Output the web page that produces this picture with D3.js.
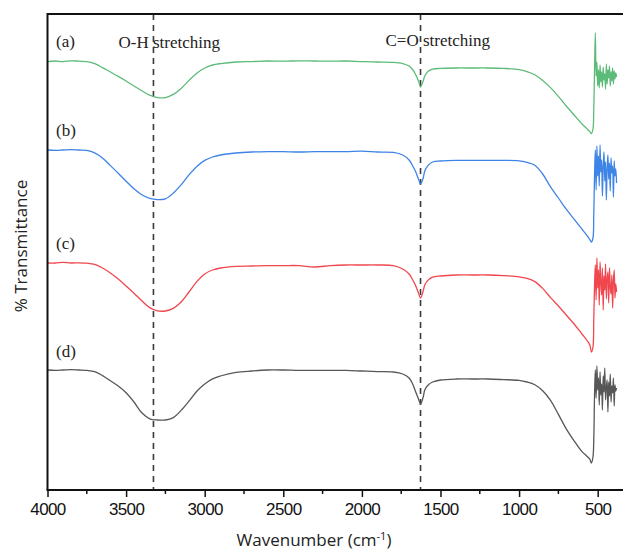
<!DOCTYPE html>
<html>
<head>
<meta charset="utf-8">
<script src="https://cdn.jsdelivr.net/npm/d3@7"></script>
<style>
  html, body { margin: 0; padding: 0; background: #fff; }
  svg { display: block; }
</style>
</head>
<body>
<div id="chart"></div>
<script>
// wavenumber grid (cm-1), shared by all four spectra
var wavenumbers = [
  4000, 3950, 3900, 3850, 3800, 3750, 3700, 3650, 3600, 3550, 3500, 3450, 3400, 3350, 3300, 3250,
  3200, 3150, 3100, 3050, 3000, 2950, 2900, 2800, 2700, 2600, 2500, 2400, 2300, 2200, 2100, 2000,
  1900, 1800, 1740, 1700, 1680, 1660, 1640, 1627, 1610, 1600, 1580, 1550, 1500, 1400, 1300, 1200,
  1100, 1000, 950, 900, 850, 800, 750, 700, 650, 600, 570, 550, 540, 530, 525, 520,
  515, 510, 505, 500, 495, 490, 485, 480, 475, 470, 465, 460, 455, 450, 445, 440,
  435, 430, 425, 420, 415, 410, 405, 400, 395, 390, 385, 380
];

// % transmittance, offset spectra (a)..(d)
var specA = [
  107.1, 107.25, 107.1, 107.3, 107.2, 107.1, 106.6, 105.6, 104.5, 103.4, 102.25, 101, 99.8, 98.7, 98.1, 98.1,
  98.9, 100.4, 102.4, 104.2, 105.5, 106.25, 106.6, 107, 107.1, 107.25, 107.2, 107.3, 107.25, 107.2, 107.25, 107.1,
  107, 106.9, 106.6, 106, 105.25, 104, 102.25, 100.75, 102.25, 103.5, 104.6, 105.2, 105.4, 105.5, 105.5, 105.5,
  105.4, 105.1, 104.6, 103.8, 102.4, 100.6, 98.4, 96, 93.75, 91.5, 90.4, 89.6, 89.1, 90.25, 95, 105,
  114.25, 103.5, 107, 101, 105, 100.5, 106.25, 102, 104.5, 100.75, 105.75, 102.5, 104, 100.25, 106.5, 101.5,
  105, 103, 106, 101, 104.5, 102.25, 105.5, 101.5, 104.75, 102.75, 104.25, 103.25
];
var specB = [
  85, 84.9, 85, 85.1, 85, 84.9, 84.3, 83, 81.1, 79.2, 77.2, 75.3, 73.8, 72.9, 72.6, 72.8,
  74.2, 76.3, 78.8, 80.9, 82.4, 83.25, 83.75, 84.25, 84.5, 84.6, 84.6, 84.5, 84.6, 84.6, 84.6, 84.7,
  84.5, 84.4, 83.75, 82.5, 81.25, 79.75, 77.75, 76.5, 78, 79.75, 81.1, 82, 82.25, 82.4, 82.4, 82.4,
  82.4, 82.3, 81.9, 81.2, 79, 75.8, 73, 70.2, 67.7, 65.2, 63.7, 62.6, 62, 63, 68.75, 78.75,
  85, 75, 86, 78.5, 83.5, 76, 86.25, 79.5, 82.5, 73.5, 81, 84.5, 77.25, 82, 72.5, 80.5,
  83.75, 77.75, 81.75, 74.75, 83, 79.25, 81, 73.25, 82.25, 78.5, 80.25, 76.75
];
var specC = [
  56.75, 56.75, 56.9, 56.75, 56.8, 56.7, 56.4, 55.5, 54.25, 52.75, 51, 49.2, 47.3, 45.6, 44.8, 44.75,
  45.4, 47, 49.5, 52.1, 54, 55, 55.5, 55.9, 56, 56.1, 56.1, 56.1, 55.75, 56.1, 56.25, 56.25,
  56.25, 56.1, 55.25, 54, 52.75, 51.25, 49.25, 48, 49.75, 51.25, 52.4, 53.2, 53.5, 53.75, 53.75, 53.75,
  53.6, 53.3, 52.9, 52.1, 50.4, 48.1, 46, 43.75, 41.5, 39, 37.5, 36.25, 34.5, 35.75, 42.5, 51.25,
  56.25, 47.5, 58, 50.5, 55, 46.25, 57, 52, 48.75, 55.5, 45, 53.5, 50, 56.5, 47.75, 52.5,
  54.5, 46.75, 55.5, 50.75, 49, 53.75, 45.5, 52.25, 55, 48, 51.5, 49.5
];
var specD = [
  30, 29.9, 30, 30.1, 30, 29.9, 29.6, 28.6, 27.3, 26, 24.3, 22, 19.3, 17.8, 17.5, 17.5,
  18.1, 19.9, 22.2, 24.7, 26.5, 27.8, 28.5, 29.4, 29.75, 30, 30, 29.9, 29.9, 29.9, 29.9, 29.75,
  29.6, 29.5, 29, 28, 26.75, 24.75, 22.75, 21.5, 23.25, 25, 26.2, 27, 27.5, 27.75, 27.75, 27.75,
  27.6, 27.4, 27, 26.3, 24.8, 22.4, 18.9, 15.3, 12.3, 9.6, 8.5, 7.7, 6.75, 8.25, 12.5, 23.75,
  30, 23, 31, 25, 28, 21.25, 29.5, 23.75, 26.5, 20, 28.5, 24.5, 30.5, 22.5, 25.5, 27.5,
  19.5, 27, 23.5, 29, 22, 26, 24.25, 28, 21, 26.25, 24.75, 25.5
];

var seriesLabels = ['(a)', '(b)', '(c)', '(d)'];
var seriesColors = ['#5cbb78', '#3d84e6', '#f0474e', '#575757'];
var labelValues  = [110.75, 88.5, 60.25, 33.25];   // where each tag sits on the y scale

var majorTicks = [4000, 3500, 3000, 2500, 2000, 1500, 1000, 500];
var minorTicks = [3750, 3250, 2750, 2250, 1750, 1250, 750];

var bandPositions = [3326, 1627];
var bandLabels    = ['O-H stretching', 'C=O stretching'];

(function () {
  var W = 623, H = 553;
  var left = 47.5, top = 14, bottom = 490;

  var svg = d3.select('#chart').append('svg')
    .attr('width', W).attr('height', H)
    .style('background', '#fff');

  var x = d3.scaleLinear().domain([4000, 339]).range([left, W]);
  var y = d3.scaleLinear().domain([0, 119]).range([bottom, top]);

  var series = [specA, specB, specC, specD];

  var line = d3.line()
    .x(function (d) { return x(d[0]); })
    .y(function (d) { return y(d[1]); })
    .curve(d3.curveCatmullRom.alpha(0.5));

  // dashed band markers
  svg.append('g').selectAll('line')
    .data(bandPositions)
    .join('line')
    .attr('x1', function (d) { return x(d); })
    .attr('x2', function (d) { return x(d); })
    .attr('y1', top)
    .attr('y2', bottom)
    .attr('stroke', '#3a3a3a')
    .attr('stroke-width', 1.6)
    .attr('stroke-dasharray', '6,5');

  // spectra
  svg.append('g').selectAll('path')
    .data(series)
    .join('path')
    .attr('d', function (s) {
      return line(wavenumbers.map(function (w, i) { return [w, s[i]]; }));
    })
    .attr('fill', 'none')
    .attr('stroke', function (d, i) { return seriesColors[i]; })
    .attr('stroke-width', 1.3)
    .attr('stroke-linejoin', 'round');

  // frame: top and left
  svg.append('line')
    .attr('x1', left).attr('x2', W).attr('y1', top).attr('y2', top)
    .attr('stroke', '#111').attr('stroke-width', 2);
  svg.append('line')
    .attr('x1', left).attr('x2', left).attr('y1', top - 1).attr('y2', bottom)
    .attr('stroke', '#111').attr('stroke-width', 2);

  // x axis
  var xAxis = d3.axisBottom(x)
    .tickValues(majorTicks)
    .tickSize(7)
    .tickPadding(6)
    .tickFormat(d3.format('d'));

  var gx = svg.append('g')
    .attr('transform', 'translate(0,' + bottom + ')')
    .call(xAxis);
  gx.select('.domain').attr('stroke', '#111').attr('stroke-width', 2)
    .attr('d', 'M' + (left - 1) + ',0H' + W);
  gx.selectAll('.tick line').attr('stroke', '#111').attr('stroke-width', 1.5);
  gx.selectAll('.tick text')
    .attr('fill', '#111')
    .style('font-family', '"Liberation Sans", Arial, sans-serif')
    .style('font-size', '17px')
    .style('letter-spacing', '-0.6px');

  gx.append('g').selectAll('line')
    .data(minorTicks)
    .join('line')
    .attr('x1', function (d) { return x(d); })
    .attr('x2', function (d) { return x(d); })
    .attr('y1', 0).attr('y2', 4)
    .attr('stroke', '#111').attr('stroke-width', 1.5);

  // axis titles
  var xt = svg.append('text')
    .attr('x', 314).attr('y', 546)
    .attr('text-anchor', 'middle')
    .style('font-family', '"Open Sans", sans-serif')
    .style('font-size', '17px')
    .attr('fill', '#222');
  xt.append('tspan').text('Wavenumber (cm');
  xt.append('tspan').attr('dy', -6).style('font-size', '11px').text('-1');
  xt.append('tspan').attr('dy', 6).text(')');

  svg.append('text')
    .attr('transform', 'translate(27,246) rotate(-90)')
    .attr('text-anchor', 'middle')
    .style('font-family', '"Open Sans", sans-serif')
    .style('font-size', '17px')
    .attr('fill', '#222')
    .text('% Transmittance');

  // series tags
  svg.append('g').selectAll('text')
    .data(seriesLabels)
    .join('text')
    .attr('x', 56)
    .attr('y', function (d, i) { return y(labelValues[i]); })
    .style('font-family', '"Liberation Serif", "Times New Roman", serif')
    .style('font-size', '17px')
    .attr('fill', '#222')
    .text(function (d) { return d; });

  // band annotations
  svg.append('g').selectAll('text')
    .data(bandLabels)
    .join('text')
    .attr('x', function (d, i) { return x(bandPositions[i]) - 35; })
    .attr('y', function (d, i) { return i === 0 ? 48 : 46; })
    .style('font-family', '"Liberation Serif", "Times New Roman", serif')
    .style('font-size', '17px')
    .attr('fill', '#222')
    .text(function (d) { return d; });
})();
</script>
</body>
</html>
